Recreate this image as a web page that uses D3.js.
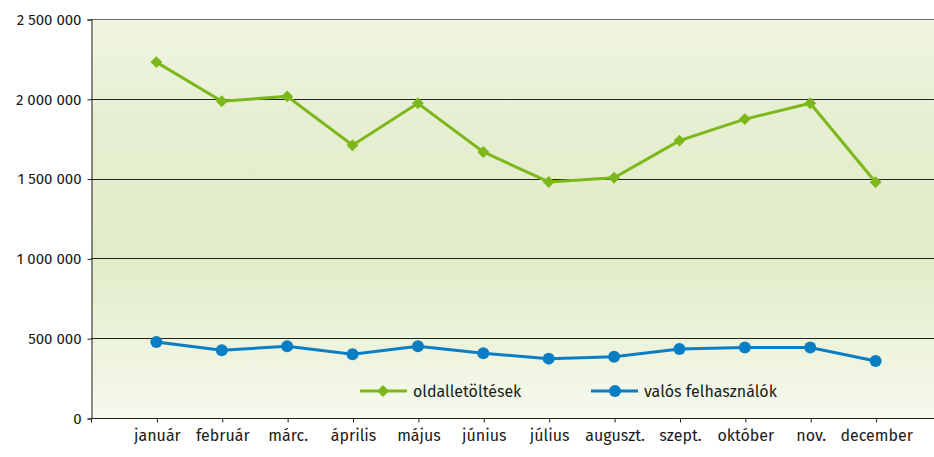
<!DOCTYPE html>
<html>
<head>
<meta charset="utf-8">
<script src="https://cdn.jsdelivr.net/npm/d3@7"></script>
<style>
  body { margin: 0; background: #fff; overflow: hidden; }
  text { font-family: 'Fira Sans', 'Open Sans', 'Noto Sans', sans-serif; fill: #1a1a1a; }
</style>
</head>
<body>
<script>
const months = ['január', 'február', 'márc.', 'április', 'május', 'június', 'július', 'auguszt.', 'szept.', 'október', 'nov.', 'december'];
const pageLoads = [2230000, 1985000, 2015000, 1709000, 1972000, 1667000, 1479000, 1505000, 1738000, 1873000, 1972000, 1477000];
const realUsers = [476000, 424000, 449000, 399000, 449000, 405000, 372000, 384000, 432000, 441000, 441000, 357000];
const yTicks = [0, 500000, 1000000, 1500000, 2000000, 2500000];
const seriesNames = ['oldalletöltések', 'valós felhasználók'];

const width = 934;
const height = 457;
const margin = { top: 19, right: -7, bottom: 39, left: 91 };

const svg = d3.select('body').append('svg')
  .attr('width', width)
  .attr('height', height);

const x = d3.scalePoint()
  .domain(months)
  .range([margin.left, width - margin.right])
  .padding(1);

const y = d3.scaleLinear()
  .domain([0, 2500000])
  .range([height - margin.bottom, margin.top]);

// background gradient
const grad = svg.append('defs').append('linearGradient')
  .attr('id', 'bg')
  .attr('x1', 0).attr('y1', 0).attr('x2', 0).attr('y2', 1);
grad.append('stop').attr('offset', '0%').attr('stop-color', '#f0f5e2');
grad.append('stop').attr('offset', '25%').attr('stop-color', '#e6efd2');
grad.append('stop').attr('offset', '60%').attr('stop-color', '#e1ecc8');
grad.append('stop').attr('offset', '100%').attr('stop-color', '#f6f9ee');

svg.append('rect')
  .attr('x', margin.left)
  .attr('y', y(2500000))
  .attr('width', width - margin.left)
  .attr('height', y(0) - y(2500000))
  .attr('fill', 'url(#bg)');

const fmt = (v) => d3.format(',')(v).replace(/,/g, ' ');

// grid lines
svg.append('g')
  .selectAll('line')
  .data(yTicks.filter((d) => d > 0))
  .enter()
  .append('line')
  .attr('x1', margin.left)
  .attr('x2', width)
  .attr('y1', (d) => Math.round(y(d)) + 0.5)
  .attr('y2', (d) => Math.round(y(d)) + 0.5)
  .style('stroke', (d) => (d === 2500000 ? '#6b6b6b' : '#222'))
  .style('stroke-width', 1);

// y axis
const yAxis = svg.append('g')
  .attr('transform', `translate(${margin.left + 0.5},0.5)`)
  .call(d3.axisLeft(y).tickValues(yTicks).tickFormat(fmt).tickSize(4).tickPadding(6));
yAxis.select('.domain').attr('stroke', '#222');
yAxis.selectAll('.tick line').attr('stroke', '#222');
yAxis.selectAll('text').style('font-size', '15px');

// x axis
const xAxis = svg.append('g')
  .attr('transform', `translate(0.5,${Math.round(y(0)) + 0.5})`)
  .call(d3.axisBottom(x).tickSize(4).tickSizeOuter(4).tickPadding(7));
xAxis.select('.domain').attr('stroke', '#222').attr('d', `M${margin.left},4V0H${width}`);
xAxis.selectAll('.tick line').attr('stroke', '#222');
xAxis.selectAll('text').style('font-size', '16px');

const green = '#7db81a';
const blue = '#0a7ec4';
const diamond = d3.symbol().type(d3.symbolDiamond2).size(90);

const line = d3.line()
  .x((d, i) => x(months[i]))
  .y((d) => y(d));

// page loads
svg.append('path')
  .datum(pageLoads)
  .attr('d', line)
  .attr('fill', 'none')
  .attr('stroke', green)
  .attr('stroke-width', 3);

svg.append('g')
  .selectAll('path')
  .data(pageLoads)
  .enter()
  .append('path')
  .attr('d', diamond)
  .attr('transform', (d, i) => `translate(${x(months[i])},${y(d)})`)
  .attr('fill', green);

// real users
svg.append('path')
  .datum(realUsers)
  .attr('d', line)
  .attr('fill', 'none')
  .attr('stroke', blue)
  .attr('stroke-width', 3);

svg.append('g')
  .selectAll('circle')
  .data(realUsers)
  .enter()
  .append('circle')
  .attr('cx', (d, i) => x(months[i]))
  .attr('cy', (d) => y(d))
  .attr('r', 6)
  .attr('fill', blue);

// legend
const legend = svg.append('g').attr('transform', 'translate(0,391)');
const items = [
  { name: seriesNames[0], color: green, x0: 360, shape: 'diamond' },
  { name: seriesNames[1], color: blue, x0: 591, shape: 'circle' },
];
items.forEach((it) => {
  const g = legend.append('g').attr('transform', `translate(${it.x0},0)`);
  g.append('line')
    .attr('x1', 0).attr('x2', 47)
    .attr('y1', 0).attr('y2', 0)
    .attr('stroke', it.color)
    .attr('stroke-width', 3);
  if (it.shape === 'diamond') {
    g.append('path').attr('d', diamond).attr('transform', 'translate(23,0)').attr('fill', it.color);
  } else {
    g.append('circle').attr('cx', 24).attr('cy', 0).attr('r', 6).attr('fill', it.color);
  }
  g.append('text')
    .attr('x', 53)
    .attr('y', 0)
    .attr('dy', '0.35em')
    .style('font-size', '16px')
    .text(it.name);
});
</script>
</body>
</html>
